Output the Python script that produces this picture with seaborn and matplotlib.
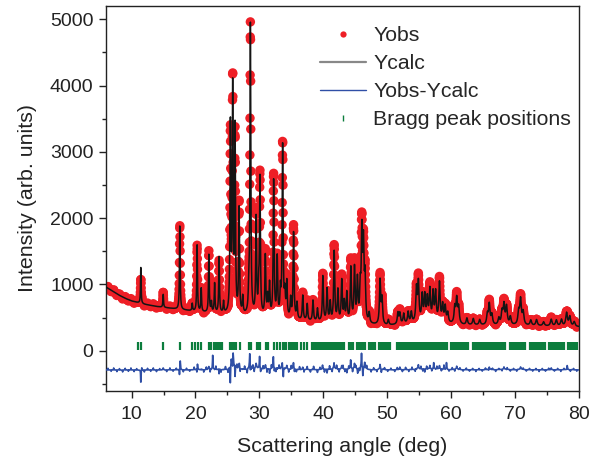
import numpy as np
import pandas as pd
import matplotlib
matplotlib.use("Agg")
import matplotlib.pyplot as plt
from matplotlib.lines import Line2D
from matplotlib.ticker import MultipleLocator
import seaborn as sns

# ---------------------------------------------------------------------------
# Refinement data
# ---------------------------------------------------------------------------
# Background knots (2theta in deg, counts); linear interpolation between them
bg_angle = [6, 7, 8, 9, 10, 12, 14, 16, 18, 20, 22, 25, 28, 30, 33, 36, 40,
            44, 47, 50, 53, 56, 60, 62, 66, 70, 75, 80]
bg_level = [960, 900, 840, 790, 750, 700, 665, 640, 615, 590, 570, 545, 520,
            505, 480, 455, 425, 405, 390, 375, 400, 420, 400, 385, 380, 380,
            370, 360]

# Calculated reflections: position (deg) and net height above background
peak_pos = [11.45, 14.95, 17.55, 19.5, 20.26, 20.9, 22.1, 22.5, 23.0, 23.7,
            24.4, 25.47, 25.83, 26.2, 26.83, 27.4, 28.35, 28.6, 29.5, 29.9,
            30.1, 30.94, 31.3, 31.6, 32.24, 32.8, 33.3, 33.65, 34.0, 34.3,
            34.9, 35.36, 35.9, 36.8, 37.5, 38.4, 39.1, 39.95, 40.6, 41.1,
            41.72, 42.3, 42.9, 43.3, 43.7, 44.33, 44.9, 45.36, 45.8, 46.05,
            46.3, 46.55, 47.2, 48.9, 49.2, 50.2, 51.7, 52.0, 52.6, 53.3,
            53.8, 54.6, 54.9, 55.5, 55.9, 56.3, 56.7, 57.2, 57.6, 58.2,
            58.7, 59.1, 59.5, 60.6, 60.9, 61.2, 62.5, 63.5, 64.5, 65.7,
            66.0, 66.4, 67.5, 68.0, 68.3, 68.7, 69.3, 70.6, 70.9, 71.3,
            72.5, 73.4, 74.5, 75.7, 76.5, 77.3, 78.1, 78.6, 79.3]
peak_height = [560, 200, 1290, 110, 1000, 350, 870, 150, 440, 840,
               170, 2850, 3400, 2750, 1600, 250, 300, 4380, 1450, 350,
               2050, 900, 280, 480, 2050, 880, 380, 2620, 330, 520,
               290, 1300, 240, 370, 250, 310, 190, 690, 490, 290,
               1060, 470, 620, 290, 430, 820, 810, 630, 470, 1300,
               1100, 650, 150, 660, 380, 80, 170, 160, 150, 170,
               160, 500, 580, 390, 380, 340, 470, 430, 440, 590,
               260, 240, 150, 240, 360, 240, 100, 95, 80, 150,
               305, 150, 100, 190, 290, 270, 120, 190, 375, 190,
               80, 90, 60, 100, 90, 100, 200, 145, 70]

# Misfit features of the observed pattern: position (deg), signed amplitude
resid_pos = [11.45, 11.6, 14.95, 17.5, 17.62, 20.22, 20.32, 22.1, 22.7, 23.7,
             25.45, 25.62, 25.9, 26.2, 26.85, 28.5, 28.68, 29.5, 30.05, 30.2,
             30.95, 31.6, 32.2, 32.35, 33.6, 33.75, 34.3, 35.35, 35.5, 36.8,
             39.9, 40.6, 41.7, 42.9, 43.7, 44.3, 44.9, 45.4, 46.0, 46.2,
             46.5, 48.9, 49.1, 52.0, 54.9, 55.9, 56.7, 57.3, 58.2, 59.3,
             60.9, 66.0, 68.3, 70.9, 75.7, 78.2]
resid_amp = [-200, 40, 30, -110, 115, -60, 70, 50, 215, -60,
             -235, 90, 150, -120, 80, 140, -110, 90, 160, -90,
             70, -60, 170, -80, 60, -185, 60, 110, -60, 40,
             60, -50, 100, 60, -50, 140, 90, -70, 215, -160,
             80, 80, -60, 40, 70, -40, 60, 90, 60, 100,
             50, 40, 40, 40, 30, 60]

# Small scatter of the observed counts about the fit: position (deg), amplitude
jitter_pos = [6.3, 6.8, 7.2, 7.7, 8.1, 8.6, 9.0, 9.5, 9.9, 10.4, 10.8, 12.0,
              12.5, 13.0, 13.4, 13.9, 14.4, 15.5, 16.0, 16.5, 17.0, 18.1,
              18.6, 19.1, 19.8, 21.3, 21.7, 22.3, 23.2, 24.0, 24.7, 25.1,
              26.5, 27.0, 27.7, 28.1, 29.0, 29.2, 30.6, 31.2, 31.9, 32.6,
              33.1, 34.6, 35.0, 35.8, 36.3, 37.0, 37.5, 38.0, 38.5, 39.1,
              39.5, 40.2, 41.0, 41.4, 42.1, 42.5, 43.1, 43.4, 44.0, 44.6,
              45.1, 45.7, 46.8, 47.5, 47.9, 48.4, 49.6, 50.1, 50.6, 51.2,
              51.6, 52.4, 52.9, 53.4, 53.9, 54.4, 55.3, 55.6, 56.2, 57.0,
              57.8, 58.5, 58.9, 59.7, 60.2, 60.6, 61.4, 61.9, 62.4, 62.9,
              63.4, 63.9, 64.4, 64.9, 65.4, 65.9, 66.5, 67.0, 67.5, 68.0,
              68.8, 69.3, 69.8, 70.3, 71.3, 71.8, 72.3, 72.8, 73.3, 73.8,
              74.3, 74.8, 75.3, 76.2, 76.7, 77.2, 77.7, 78.7, 79.2, 79.7]
jitter_amp = [25, -20, 30, -25, 20, -30, 25, -20, 30, -25, 20, -30,
              25, -20, 30, -25, 20, -25, 30, -20, 25, -30,
              25, -20, 40, -35, 40, -45, 50, -40, 45, -50,
              60, -55, 50, -60, 55, -45, 50, -55, 60, -50,
              55, -45, 50, -40, 45, -40, 50, -35, 45, -40,
              35, -45, 50, -40, 55, -45, 50, -40, 45, -50,
              40, -45, 50, -35, 30, -30, 30, -25, 25, -25,
              30, -30, 35, -30, 35, -35, 40, -35, 40, -35,
              40, -30, 60, -25, 30, -25, 25, -20, 25, -20,
              20, -25, 20, -20, 25, -20, 20, -25, 20, -20,
              25, -20, 20, -25, 25, -20, 20, -20, 20, -25,
              20, -20, 25, -20, 20, -25, 20, -25, 20, -20]

# Bragg reflection markers (deg)
bragg_pos = [11.05, 11.4, 14.95, 17.55, 19.5, 19.9, 20.36, 20.94, 22.13, 22.45,
             22.85, 23.17, 23.48, 23.8, 24.17, 25.47, 25.73, 26.1, 26.4, 26.92,
             28.44, 28.7, 29.64, 29.9, 30.16, 31.05, 31.3, 32.35, 32.77, 33.3,
             33.7, 33.97, 34.23, 34.6, 34.86, 35.12, 35.38, 35.65, 35.9, 36.5,
             36.95, 37.5, 38.2, 38.5, 38.8, 39.1, 39.4, 39.7, 40.0, 40.3,
             40.6, 40.9, 41.2, 41.5, 41.8, 42.1, 42.4, 42.7, 43.0, 43.3,
             44.0, 44.3, 44.6, 45.3, 45.6, 45.9, 46.2, 46.5, 47.2, 47.5,
             47.8, 48.1, 48.7, 49.0, 49.3, 49.6, 49.9, 50.2, 50.5, 51.6,
             51.9, 52.2, 52.5, 52.8, 53.1, 53.4, 53.7, 54.0, 54.3, 54.6,
             54.9, 55.2, 55.5, 55.8, 56.1, 56.4, 56.7, 57.0, 57.3, 57.6,
             57.9, 58.2, 58.5, 58.8, 59.1, 59.4, 60.0, 60.3, 60.6, 60.9,
             61.2, 61.5, 61.8, 62.1, 62.4, 62.7, 63.4, 63.7, 64.0, 64.3,
             64.6, 64.9, 65.2, 65.5, 65.8, 66.1, 66.4, 66.7, 67.0, 67.3,
             67.6, 67.9, 68.2, 68.5, 69.2, 69.5, 69.8, 70.1, 70.4, 70.7,
             71.0, 71.3, 71.6, 72.3, 72.6, 72.9, 73.2, 73.5, 73.8, 74.1,
             74.4, 74.7, 75.3, 75.6, 75.9, 76.2, 76.5, 76.8, 77.1, 77.4,
             77.7, 78.3, 78.6, 78.9, 79.2, 79.5, 79.8]

DIFF_OFFSET = -290
BRAGG_LEVEL = 70

# ---------------------------------------------------------------------------
# Profile calculation
# ---------------------------------------------------------------------------
two_theta = np.arange(6.0, 80.0001, 0.02)


def lorentz(x, x0, fwhm):
    return 1.0 / (1.0 + (2.0 * (x - x0) / fwhm) ** 2)


def fwhm_at(x0):
    return 0.07 + 0.003 * x0


background = np.interp(two_theta, bg_angle, bg_level)
y_calc = background.copy()
y_obs = background.copy()
for p, h in zip(peak_pos, peak_height):
    w = fwhm_at(p)
    y_calc += h * lorentz(two_theta, p, w)
    y_obs += h * lorentz(two_theta, p, w * 1.05)
for p, a in zip(resid_pos, resid_amp):
    y_obs += a * lorentz(two_theta, p, 0.08)
for p, a in zip(jitter_pos, jitter_amp):
    y_obs += a * lorentz(two_theta, p, 0.05)

df = pd.DataFrame({"angle": two_theta, "obs": y_obs, "calc": y_calc,
                   "diff": y_obs - y_calc + DIFF_OFFSET})
bragg = pd.DataFrame({"angle": bragg_pos,
                      "level": [BRAGG_LEVEL] * len(bragg_pos)})

# ---------------------------------------------------------------------------
# Figure
# ---------------------------------------------------------------------------
sns.set_theme(style="ticks")
plt.rcParams["font.family"] = ["Liberation Sans", "DejaVu Sans"]
plt.rcParams["axes.linewidth"] = 1.0

RED = "#ee1f26"
BLACK = "#141414"
BLUE = "#2f4fa6"
GREEN = "#0b7d3d"
AXIS = "#222222"

fig = plt.figure(figsize=(6.01, 4.61), dpi=100)
ax = fig.add_axes([0.1764, 0.1529, 0.7865, 0.8341])

sns.scatterplot(data=df, x="angle", y="obs", ax=ax, s=46, color=RED,
                linewidth=0, edgecolor="none", legend=False, zorder=2)
sns.lineplot(data=df, x="angle", y="calc", ax=ax, color=BLACK, lw=1.1,
             estimator=None, sort=False, legend=False, zorder=3)
sns.lineplot(data=df, x="angle", y="diff", ax=ax, color=BLUE, lw=1.2,
             estimator=None, sort=False, legend=False, zorder=3)
sns.scatterplot(data=bragg, x="angle", y="level", ax=ax, marker="|", s=26,
                color=GREEN, linewidth=1.6, legend=False, zorder=3)

ax.set_xlim(6, 80)
ax.set_ylim(-600, 5200)
ax.xaxis.set_major_locator(MultipleLocator(10))
ax.xaxis.set_minor_locator(MultipleLocator(5))
ax.yaxis.set_major_locator(MultipleLocator(1000))
ax.yaxis.set_minor_locator(MultipleLocator(500))
ax.tick_params(axis="both", which="major", direction="out", length=5,
               width=1.0, colors=AXIS, labelsize=14, top=False, right=False)
ax.tick_params(axis="x", which="major", pad=6)
ax.tick_params(axis="y", which="major", pad=4)
ax.tick_params(axis="both", which="minor", direction="out", length=3,
               width=1.0, colors=AXIS, top=False, right=False)
for side in ax.spines.values():
    side.set_color(AXIS)
    side.set_visible(True)

ax.set_xlabel("Scattering angle (deg)", fontsize=15.4, color=AXIS,
              labelpad=10)
ax.set_ylabel("Intensity (arb. units)", fontsize=15.4, color=AXIS,
              labelpad=9)

handles = [
    Line2D([], [], ls="none", marker="o", ms=4.5, color=RED, mec="none"),
    Line2D([], [], color="#888888", lw=1.6),
    Line2D([], [], color=BLUE, lw=1.0),
    Line2D([], [], ls="none", marker="|", ms=5, mew=1.0, color=GREEN),
]
labels = ["Yobs", "Ycalc", "Yobs-Ycalc", "Bragg peak positions"]
ax.legend(handles, labels, loc="upper left", bbox_to_anchor=(0.452, 0.947),
          frameon=False, fontsize=15.3, handlelength=2.2, handletextpad=0.33,
          labelspacing=0.42, borderpad=0, borderaxespad=0)

fig.savefig("out.png", dpi=100)
